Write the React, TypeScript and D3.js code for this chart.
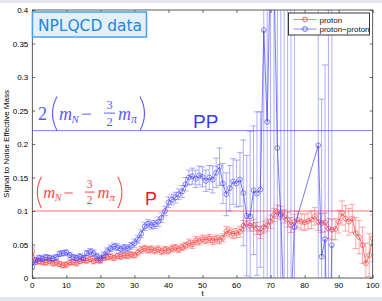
import React, { useRef, useEffect } from "react";
import * as d3 from "d3";

// proton: every t from 0 to 100
const redT = d3.range(0, 101);
const redV = [
  0.040, 0.024, 0.025, 0.024, 0.023, 0.025, 0.022, 0.023, 0.021, 0.019,
  0.020, 0.023, 0.024, 0.022, 0.025, 0.027, 0.026, 0.028, 0.025, 0.027,
  0.026, 0.030, 0.031, 0.032, 0.030, 0.033, 0.032, 0.034, 0.033, 0.035,
  0.034, 0.038, 0.042, 0.044, 0.042, 0.043, 0.041, 0.043, 0.040, 0.042,
  0.041, 0.044, 0.045, 0.043, 0.046, 0.048, 0.052, 0.050, 0.056, 0.055,
  0.058, 0.057, 0.059, 0.056, 0.058, 0.057, 0.060, 0.070, 0.068, 0.066,
  0.067, 0.069, 0.078, 0.081, 0.078, 0.079, 0.074, 0.068, 0.076, 0.079,
  0.084, 0.094, 0.099, 0.097, 0.092, 0.087, 0.079, 0.084, 0.087, 0.084,
  0.083, 0.085, 0.087, 0.092, 0.084, 0.082, 0.083, 0.074, 0.072, 0.073,
  0.084, 0.097, 0.089, 0.084, 0.089, 0.067, 0.061, 0.049, 0.022, 0.034,
  0.059,
];
const redE = [
  0.006, 0.004, 0.004, 0.004, 0.004, 0.004, 0.004, 0.004, 0.004, 0.004,
  0.004, 0.004, 0.004, 0.004, 0.004, 0.004, 0.004, 0.004, 0.004, 0.004,
  0.004, 0.004, 0.004, 0.004, 0.004, 0.004, 0.004, 0.004, 0.004, 0.004,
  0.004, 0.005, 0.005, 0.005, 0.005, 0.005, 0.005, 0.005, 0.005, 0.005,
  0.005, 0.005, 0.005, 0.005, 0.005, 0.005, 0.006, 0.006, 0.006, 0.006,
  0.006, 0.006, 0.006, 0.006, 0.006, 0.006, 0.006, 0.007, 0.007, 0.007,
  0.007, 0.008, 0.008, 0.008, 0.008, 0.009, 0.009, 0.009, 0.009, 0.009,
  0.010, 0.010, 0.010, 0.010, 0.010, 0.011, 0.011, 0.011, 0.012, 0.012,
  0.012, 0.012, 0.013, 0.013, 0.013, 0.014, 0.014, 0.015, 0.015, 0.016,
  0.017, 0.018, 0.019, 0.020, 0.021, 0.023, 0.025, 0.027, 0.030, 0.032,
  0.035,
];

// proton-proton: some t missing at late times
const blueT = [
  0, 1, 2, 3, 4, 5, 6, 7, 8, 9, 10, 11, 12, 13, 14, 15, 16, 17, 18, 19,
  20, 21, 22, 23, 24, 25, 26, 27, 28, 29, 30, 31, 32, 33, 34, 35, 36, 37, 38, 39,
  40, 41, 42, 43, 44, 45, 46, 47, 48, 49, 50, 51, 52, 53, 54, 55, 56, 57, 58, 59,
  60, 61, 62, 63, 64, 65, 66, 67, 68, 69, 70, 71, 72, 73, 74, 75, 76, 77,
  84, 85, 86, 87, 88,
];
const blueV = [
  0.017, 0.027, 0.030, 0.029, 0.031, 0.030, 0.029, 0.031, 0.036, 0.037,
  0.038, 0.034, 0.031, 0.030, 0.032, 0.030, 0.037, 0.039, 0.037, 0.032,
  0.029, 0.034, 0.040, 0.044, 0.047, 0.046, 0.043, 0.045, 0.044, 0.048,
  0.052, 0.058, 0.066, 0.077, 0.081, 0.079, 0.080, 0.084, 0.090, 0.100,
  0.113, 0.117, 0.120, 0.125, 0.129, 0.140, 0.150, 0.152, 0.148, 0.153,
  0.151, 0.145, 0.150, 0.147, 0.157, 0.166, 0.141, 0.125, 0.134, 0.144,
  0.141, 0.147, 0.127, 0.093, 0.092, 0.131, 0.126, 0.132, 0.370, 0.233,
  0.480, 0.450, 0.194, 0.094, -0.060, -0.100, -0.040, 0.076,
  0.198, 0.032, 0.058, -0.200, 0.049,
];
const blueE = [
  0.004, 0.004, 0.004, 0.004, 0.004, 0.004, 0.004, 0.004, 0.004, 0.004,
  0.004, 0.004, 0.004, 0.004, 0.004, 0.004, 0.004, 0.005, 0.005, 0.005,
  0.005, 0.005, 0.005, 0.005, 0.005, 0.005, 0.005, 0.005, 0.005, 0.005,
  0.006, 0.006, 0.006, 0.006, 0.006, 0.006, 0.006, 0.007, 0.007, 0.007,
  0.008, 0.008, 0.008, 0.008, 0.009, 0.010, 0.011, 0.012, 0.013, 0.014,
  0.015, 0.016, 0.018, 0.020, 0.022, 0.028, 0.030, 0.032, 0.034, 0.034,
  0.035, 0.040, 0.079, 0.090, 0.127, 0.096, 0.122, 0.116, 0.6, 0.6,
  0.6, 0.6, 0.6, 0.6, 0.6, 0.6, 0.6, 0.6,
  0.6, 0.235, 0.260, 0.6, 0.6,
];

const xTicks = [0, 10, 20, 30, 40, 50, 60, 70, 80, 90, 100];
const yTicks = [0, 0.05, 0.1, 0.15, 0.2, 0.25, 0.3, 0.35, 0.4];
const yTickLabels = ["0", "0.05", "0.1", "0.15", "0.2", "0.25", "0.3", "0.35", "0.4"];
const legendLabels = ["proton", "proton\u2212proton"];
const ppLevel = 0.22;
const pLevel = 0.1;

const RED = "#ff3030";
const BLUE = "#3838ff";
const SANS = "'Liberation Sans', Arial, sans-serif";
const SERIF = "'Liberation Serif', 'Times New Roman', serif";

const W = 382;
const H = 301;

// 2(m_N - 3/2 m_pi), laid out from the left parenthesis
const drawFormula = (g, x0, base, color, k, two) => {
  const f = g.append("g").attr("fill", color).attr("font-family", SERIF);
  const txt = (dx, dy, size, s, italic, anchor) =>
    f.append("text")
      .attr("x", x0 + dx * k).attr("y", base + dy * k)
      .attr("font-size", size * k)
      .attr("font-style", italic ? "italic" : "normal")
      .attr("text-anchor", anchor || "start")
      .text(s);
  if (two) txt(-12, 0, 18, "2", false);
  const paren = (xa, xb) =>
    `M${xa},${base - 23 * k} Q${xb},${base - 6 * k} ${xa},${base + 11 * k}`;
  f.append("path").attr("d", paren(x0 + 7 * k, x0 - 2 * k)).attr("fill", "none").attr("stroke", color).attr("stroke-width", 1.1);
  txt(9, 0, 18, "m", true);
  txt(21.5, 3, 11, "N", true);
  f.append("rect").attr("x", x0 + 32 * k).attr("y", base - 6 * k).attr("width", 9 * k).attr("height", 1);
  txt(59.5, -11, 12.5, "3", false, "middle");
  f.append("rect").attr("x", x0 + 54 * k).attr("y", base - 7 * k).attr("width", 11 * k).attr("height", 1);
  txt(59.5, 6, 12.5, "2", false, "middle");
  txt(68, 0, 18, "m", true);
  txt(81, 3, 12, "\u03c0", true);
  f.append("path").attr("d", paren(x0 + 90 * k, x0 + 99 * k)).attr("fill", "none").attr("stroke", color).attr("stroke-width", 1.1);
};

const Chart = () => {
  const ref = useRef();

  useEffect(() => {
    document.body.style.margin = "0";
    const svg = d3.select(ref.current);
    svg.selectAll("*").remove();

    const margin = { top: 10, right: 9.3, bottom: 23, left: 32.3 };
    const x = d3.scaleLinear().domain([0, 100]).range([margin.left, W - margin.right]);
    const y = d3.scaleLinear().domain([0, 0.4]).range([H - margin.bottom, margin.top]);

    // slide frame
    svg.append("rect").attr("width", W).attr("height", H).attr("fill", "#fff");
    svg.append("rect").attr("width", W).attr("height", 3).attr("fill", "#e4e8ec");
    svg.append("rect").attr("y", 297).attr("width", W).attr("height", 4).attr("fill", "#e4e8ec");

    svg.append("clipPath").attr("id", "plotclip")
      .append("rect")
      .attr("x", x(0)).attr("y", y(0.4))
      .attr("width", x(100) - x(0)).attr("height", y(0) - y(0.4));

    const plot = svg.append("g").attr("clip-path", "url(#plotclip)");

    // reference levels
    plot.append("line")
      .attr("x1", x(0)).attr("x2", x(100))
      .attr("y1", y(ppLevel)).attr("y2", y(ppLevel))
      .attr("stroke", "#8585ff").attr("stroke-width", 1);
    plot.append("line")
      .attr("x1", x(0)).attr("x2", x(100))
      .attr("y1", y(pLevel)).attr("y2", y(pLevel))
      .attr("stroke", "#ffa0a0").attr("stroke-width", 1.6);

    const series = [
      { t: redT, v: redV, e: redE, color: RED },
      { t: blueT, v: blueV, e: blueE, color: BLUE },
    ];

    series.forEach((s) => {
      const pts = s.t.map((t, i) => ({ t, v: s.v[i], e: s.e[i] }));
      const g = plot.append("g").attr("stroke", s.color).attr("fill", "none");

      // error bars
      g.append("g")
        .attr("stroke-opacity", 0.5)
        .attr("stroke-width", 0.8)
        .selectAll("path")
        .data(pts)
        .join("path")
        .attr("d", (d) => {
          const cx = x(d.t);
          const y1 = y(d.v + d.e);
          const y2 = y(d.v - d.e);
          return `M${cx},${y1}V${y2}M${cx - 3},${y1}H${cx + 3}M${cx - 3},${y2}H${cx + 3}`;
        });

      g.append("path")
        .datum(pts)
        .attr("stroke-opacity", 0.75)
        .attr("stroke-width", 0.9)
        .attr("d", d3.line().x((d) => x(d.t)).y((d) => y(d.v)));

      g.append("g")
        .attr("stroke-opacity", 0.75)
        .attr("stroke-width", 0.8)
        .selectAll("circle")
        .data(pts)
        .join("circle")
        .attr("cx", (d) => x(d.t))
        .attr("cy", (d) => y(d.v))
        .attr("r", 2.4);
    });

    // axes box with inward ticks on all four sides
    const axes = svg.append("g");
    axes.append("rect")
      .attr("x", x(0)).attr("y", y(0.4))
      .attr("width", x(100) - x(0)).attr("height", y(0) - y(0.4))
      .attr("fill", "none").attr("stroke", "#333").attr("stroke-width", 0.8);

    const bottom = axes.append("g")
      .attr("transform", `translate(0,${y(0)})`)
      .call(d3.axisBottom(x).tickValues(xTicks).tickSize(-3).tickFormat(() => ""));
    const top = axes.append("g")
      .attr("transform", `translate(0,${y(0.4)})`)
      .call(d3.axisTop(x).tickValues(xTicks).tickSize(-3).tickFormat(() => ""));
    const left = axes.append("g")
      .attr("transform", `translate(${x(0)},0)`)
      .call(d3.axisLeft(y).tickValues(yTicks).tickSize(-3).tickFormat(() => ""));
    const right = axes.append("g")
      .attr("transform", `translate(${x(100)},0)`)
      .call(d3.axisRight(y).tickValues(yTicks).tickSize(-3).tickFormat(() => ""));
    [bottom, top, left, right].forEach((a) => {
      a.select(".domain").remove();
      a.selectAll(".tick line").attr("stroke", "#333").attr("stroke-width", 0.7);
      a.selectAll(".tick text").remove();
    });

    // legend
    const lg = svg.append("g").attr("transform", "translate(288.5,13)");
    lg.append("rect").attr("width", 81).attr("height", 22).attr("fill", "#fff").attr("stroke", "#222").attr("stroke-width", 0.9);
    legendLabels.forEach((label, i) => {
      const color = i === 0 ? RED : BLUE;
      const ly = 6.5 + i * 9.5;
      lg.append("line").attr("x1", 5).attr("x2", 28).attr("y1", ly).attr("y2", ly)
        .attr("stroke", color).attr("stroke-opacity", 0.6);
      lg.append("circle").attr("cx", 16.5).attr("cy", ly).attr("r", 2.4)
        .attr("fill", "none").attr("stroke", color).attr("stroke-opacity", 0.75);
      lg.append("text").attr("x", 31).attr("y", ly + 3)
        .attr("font-family", SANS).attr("font-size", 8)
        .attr("fill", "#111").text(label);
    });

    // title badge
    const badge = svg.append("g");
    badge.append("rect").attr("x", 32.5).attr("y", 12).attr("width", 114).attr("height", 25)
      .attr("fill", "#e2f0fb").attr("stroke", "#4aa3ea").attr("stroke-width", 1.5);
    badge.append("text").attr("x", 38).attr("y", 30.5)
      .attr("font-family", "'DejaVu Sans', sans-serif").attr("font-size", 15)
      .attr("textLength", 104).attr("lengthAdjust", "spacingAndGlyphs")
      .attr("fill", "#1f86e0").text("NPLQCD data");

    // annotations
    drawFormula(svg, 50, y(ppLevel) - 11, "#5a5aff", 1, true);
    drawFormula(svg, 35, y(pLevel) - 13, "#ff4a4a", 0.92, false);
    svg.append("text").attr("x", 193).attr("y", y(ppLevel) - 3)
      .attr("font-family", SANS).attr("font-size", 19)
      .attr("fill", "#3a3af2").text("PP");
    svg.append("text").attr("x", 145).attr("y", y(pLevel) - 6)
      .attr("font-family", SANS).attr("font-size", 18)
      .attr("fill", "#ee1c1c").text("P");

    // tick labels and axis titles
    const labels = svg.append("g").attr("font-family", SANS).attr("font-size", 8).attr("fill", "#000");
    labels.append("g").selectAll("text")
      .data(xTicks)
      .join("text")
      .attr("x", (d) => x(d)).attr("y", y(0) + 10)
      .attr("text-anchor", "middle")
      .text((d) => String(d));
    labels.append("g").selectAll("text")
      .data(yTicks)
      .join("text")
      .attr("x", x(0) - 4).attr("y", (d) => y(d) + 3)
      .attr("text-anchor", "end")
      .text((d, i) => yTickLabels[i]);
    labels.append("text")
      .attr("x", (x(0) + x(100)) / 2).attr("y", 296)
      .attr("text-anchor", "middle").text("t");
    labels.append("text")
      .attr("transform", `translate(9,${(y(0) + y(0.4)) / 2}) rotate(-90)`)
      .attr("text-anchor", "middle").text("Signal to Noise Effective Mass");
  }, []);

  return <svg ref={ref} width={W} height={H} style={{ display: "block" }}></svg>;
};

export default function App() {
  return <Chart />;
}
